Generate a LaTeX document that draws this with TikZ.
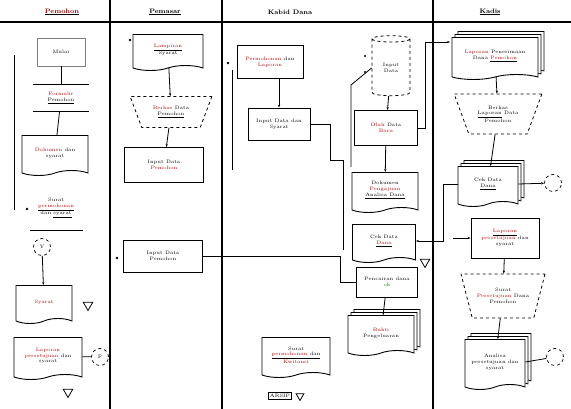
\documentclass[tikz,border=0pt]{standalone}
\usetikzlibrary{shapes.geometric,shapes.symbols,shadows,arrows.meta}
\begin{document}
\begin{tikzpicture}[x=1pt,y=-1pt,
  every node/.style={font=\fontsize{4.9}{5.8}\selectfont, align=center, inner sep=1pt},
  lane/.style={line width=1.1pt},
  hdr/.style={font=\fontsize{6.5}{7}\selectfont\bfseries},
  proc/.style={draw, line width=0.9pt, rectangle},
  docu/.style={draw, line width=0.9pt, tape, tape bend top=none, tape bend height=5pt, fill=white},
  mdoc/.style={docu, double copy shadow={shadow xshift=3pt, shadow yshift=3pt, draw, line width=0.7pt, fill=white}},
  trap/.style={draw, line width=0.8pt, dashed, trapezium, shape border rotate=180, trapezium stretches=true},
  conn/.style={draw, dashed, circle, minimum size=17pt, line width=0.7pt},
  store/.style={draw, line width=0.8pt, regular polygon, regular polygon sides=3, shape border rotate=180, minimum size=11pt, inner sep=0pt},
  link/.style={line width=0.8pt},
  arr/.style={link, -{Stealth[length=3pt]}}
]
\useasboundingbox (0,0) rectangle (571,409);
% lanes
\draw[lane] (0,22) -- (571,22);
\draw[lane] (110,0) -- (110,409);
\draw[lane] (222,0) -- (222,409);
\draw[lane] (433,0) -- (433,409);
\node[hdr] (h1) at (62,12) {\underline{\textcolor{red!60!black}{Pemohon}}};
\node[hdr] (h2) at (165,12) {\underline{Pemasar}};
\node[hdr] (h3) at (290,12) {Kabid Dana};
\node[hdr] (h4) at (490,12) {\underline{Kadis}};

% ---------- Lane 1
\node[proc, draw=gray, minimum width=48pt, minimum height=28pt] (start) at (61,52) {Mulai};
\node[minimum width=55pt, minimum height=27pt] (form) at (61,98) {\textcolor{red!75!black}{Formulir}\\\underline{Pemohon}};
\draw[line width=0.9pt] (form.north west) -- (form.north east);
\draw[line width=0.9pt] (form.south west) -- (form.south east);
\node[docu, minimum width=66pt, minimum height=40pt] (dok1) at (55,153) {\textcolor{red!75!black}{Dokumen} dan\\syarat};
\draw[link] (start) -- (form);
\draw[link] (form) -- (dok1);
\coordinate (l1a) at (14,55);
\coordinate (l1b) at (14,210);
\draw[line width=1pt] (l1a) -- (l1b);
\node (surat) at (56,208) {Surat\\\underline{\textcolor{red!75!black}{permohonan}}\\dan \underline{syarat}};
\fill (27,209) circle (1.3pt);
\draw[line width=0.9pt] (30,230) -- (83,230);
\node[conn] (cy) at (42,247) {Y};
\node[docu, minimum width=56pt, minimum height=38pt] (syarat) at (44,302) {\textcolor{red!75!black}{Syarat}};
\draw[arr] (cy) -- (syarat);
\node[store] (t1) at (88,305) {};
\node[docu, minimum width=68pt, minimum height=42pt] (lap1) at (48,356) {\textcolor{red!75!black}{Laporan}\\\textcolor{red!75!black}{persetujuan} dan\\syarat};
\node[conn] (cf) at (100,357) {F};
\draw[link] (lap1) -- (cf);
\node[store] (t2) at (68,392) {};

% ---------- Lane 2
\node[docu, minimum width=70pt, minimum height=36pt] (lamp) at (168,50) {\underline{\textcolor{red!75!black}{Lampiran}}\\Syarat};
\fill (130,40) circle (1.3pt);
\node[trap, minimum width=82pt, minimum height=31pt] (tr1) at (171,112) {\textcolor{red!75!black}{Berkas} Data\\\underline{Pemohon}};
\draw[arr] (lamp) -- (tr1);
\node[proc, minimum width=79pt, minimum height=35pt] (inp1) at (164,165) {Input Data\\\textcolor{red!75!black}{Pemohon}};
\draw[arr] (tr1) -- (inp1);
\node[proc, minimum width=79pt, minimum height=32pt] (inp2) at (163,256) {Input Data\\Pemohon};
\fill (117,258) circle (1.3pt);

% ---------- Lane 3
\node[proc, minimum width=66pt, minimum height=33pt] (pemb) at (270,62) {\textcolor{red!75!black}{Permohonan} dan\\\textcolor{red!75!black}{Laporan}};
\fill (228,63) circle (1.3pt);
\draw[line width=1pt] (232,70) -- (232,170);
\node[proc, minimum width=62pt, minimum height=32pt] (inpds) at (279,124) {Input Data dan\\Syarat};
\draw[arr] (inpds.north |- pemb.south) -- (inpds.north);
\node[draw, line width=0.8pt, dashed, cylinder, shape border rotate=90, aspect=0.35, minimum width=38pt, minimum height=60pt] (cyl) at (391,68) {Input\\Data};
\fill (365,56) circle (1.2pt);
\fill (365,72) circle (1.2pt);
\node[proc, minimum width=63pt, minimum height=35pt] (olah) at (386,128) {\textcolor{red!75!black}{Olah} Data\\\textcolor{red!75!black}{Baru}};
\draw[arr] (cyl) -- (olah);
\node[docu, minimum width=66pt, minimum height=40pt] (anl) at (385,190) {Dokumen\\\textcolor{red!75!black}{Pengajuan}\\\underline{Analisa Dana}};
\draw[arr] (olah) -- (anl);
\node[docu, minimum width=63pt, minimum height=38pt] (cekB) at (384,241) {Cek Data\\\underline{\textcolor{red!75!black}{Dana}}};
\node[store] (t3) at (425,262) {};
\node[proc, minimum width=61pt, minimum height=30pt] (cair) at (387,282) {Pencairan dana\\\textcolor{green!50!black}{ok}};
\node[mdoc, minimum width=66pt, minimum height=40pt] (bukti) at (381,333) {\textcolor{red!75!black}{Bukti}\\Pengeluaran};
\draw[arr] (cair) -- (bukti);
\node[docu, minimum width=68pt, minimum height=40pt] (srt) at (296,355) {Surat\\\underline{\textcolor{red!75!black}{permohonan} dan}\\\textcolor{red!75!black}{Kwitansi}};
\node[draw, line width=0.7pt, inner sep=1.5pt] (arsip) at (280,396) {ARSIP};
\node[store, minimum size=9pt] (t4) at (300,396) {};
% lane 3 connectors
\draw[link] (inp2.east) -- (340,256) |- (cair.west);
\draw[link] (inpds.east) -- (330,124) -- (330,160) -- (343,160) -- (343,250);
\draw[link] (cyl.west) -- (351,85) -- (351,167);
\draw[arr] (olah.east) -- (425,128) |- (450,42);

% ---------- Lane 4
\node[mdoc, minimum width=86pt, minimum height=42pt] (lapK) at (495,56) {\textcolor{red!75!black}{Laporan} Penerimaan\\Dana \underline{\textcolor{red!75!black}{Pemohon}}};
\node[trap, minimum width=88pt, minimum height=40pt] (tr2) at (498,114) {Berkas\\\underline{Laporan} Data\\Pemohon};
\draw[arr] (lapK) -- (tr2);
\node[mdoc, minimum width=60pt, minimum height=40pt] (cekK) at (488,184) {Cek Data\\\underline{Dana}};
\draw[arr] (tr2) -- (cekK);
\node[conn] (ck1) at (553,183) {};
\draw[arr] (cekK.east) -- (ck1);
\draw[arr] (cekK.west) -- (443,184) |- (cekB.east);
\node[proc, minimum width=68pt, minimum height=40pt] (lapP) at (505,238) {\underline{\textcolor{red!75!black}{Laporan}}\\\textcolor{red!75!black}{persetujuan} dan\\syarat};
\coordinate (inK) at (453,238);
\draw[arr] (inK) -- (lapP.west);
\node[trap, minimum width=84pt, minimum height=44pt] (tr3) at (503,296) {Surat\\\textcolor{red!75!black}{Persetujuan} Dana\\Pemohon};
\draw[arr] (lapP) -- (tr3);
\node[mdoc, minimum width=60pt, minimum height=50pt] (anK) at (495,362) {Analisa\\persetujuan dan\\syarat};
\draw[arr] (tr3) -- (anK);
\node[conn] (ck2) at (555,357) {};
\draw[link] (anK.east) -- (ck2);
\end{tikzpicture}
\end{document}
